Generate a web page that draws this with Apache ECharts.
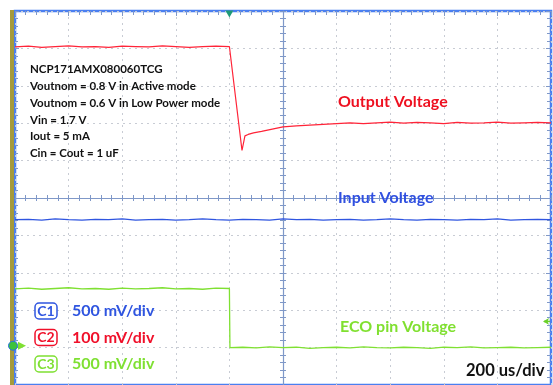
<!DOCTYPE html>
<html>
<head>
<meta charset="utf-8">
<script src="https://cdn.jsdelivr.net/npm/echarts@6/dist/echarts.min.js"></script>
<style>
html,body{margin:0;padding:0;background:#fff;}
#main{width:553px;height:385px;}
</style>
</head>
<body>
<div id="main"></div>
<script>
// time in us (screen centre = 0, 200 us/div), levels in divisions from centre
var redTime  = [-1000,-950,-900,-850,-800,-750,-700,-650,-600,-550,-500,-450,-400,-350,-300,-250,-200,
                -195,-153,-142,-130,-110,-80,-40,0,50,100,150,200,250,300,350,400,450,500,550,600,650,700,750,800,850,900,950,1000];
var redVal   = [4.04,4.06,4.03,4.05,4.07,4.04,4.05,4.03,4.06,4.05,4.04,4.07,4.05,4.03,4.05,4.06,4.05,
                4.00,1.27,1.66,1.70,1.74,1.78,1.84,1.90,1.93,1.95,1.97,1.99,2.01,1.99,2.01,2.03,2.00,2.02,2.01,1.99,2.02,2.00,2.01,2.03,2.00,2.01,2.02,2.01];

var blueTime = [-1000,-950,-900,-850,-800,-750,-700,-650,-600,-550,-500,-450,-400,-350,-300,-250,-200,-150,-100,-50,0,
                50,100,150,200,250,300,350,400,450,500,550,600,650,700,750,800,850,900,950,1000];
var blueVal  = [-0.58,-0.57,-0.59,-0.56,-0.58,-0.59,-0.57,-0.58,-0.56,-0.59,-0.58,-0.57,-0.59,-0.58,-0.56,-0.58,-0.59,-0.57,-0.58,-0.59,-0.56,
                -0.58,-0.57,-0.59,-0.58,-0.57,-0.59,-0.58,-0.56,-0.58,-0.59,-0.57,-0.58,-0.59,-0.57,-0.58,-0.56,-0.59,-0.58,-0.57,-0.58];

var greenTime = [-1000,-950,-900,-850,-800,-750,-700,-650,-600,-550,-500,-450,-400,-350,-300,-250,-200,-198,
                 -150,-100,-50,0,50,100,150,200,250,300,350,400,450,500,550,600,650,700,750,800,850,900,950,1000];
var greenVal  = [-2.43,-2.41,-2.44,-2.42,-2.40,-2.43,-2.42,-2.44,-2.41,-2.43,-2.42,-2.40,-2.43,-2.42,-2.44,-2.41,-2.42,-4.00,
                 -3.99,-4.01,-3.98,-4.00,-3.99,-4.02,-4.00,-3.99,-4.01,-3.98,-4.00,-4.01,-3.99,-4.00,-4.02,-3.99,-4.00,-3.98,-4.01,-4.00,-3.99,-4.01,-4.00,-3.99];

var infoLines = ['NCP171AMX080060TCG','Voutnom = 0.8 V in Active mode','Voutnom = 0.6 V in Low Power mode','Vin = 1.7 V','Iout = 5 mA','Cin = Cout = 1 uF'];
var chanNames = ['C1','C2','C3'];
var chanScales = ['500 mV/div','100 mV/div','500 mV/div'];
var chanColors = ['#2f55e0','#f0102a','#7fe032'];
var triggerTime = -200;
var triggerLevel = -3.3;
var groundLevel = -3.95;

function zip(t, v){
    var out = [];
    for(var i=0;i<t.length;i++){ out.push([t[i], v[i]]); }
    return out;
}

var fam = 'Lato, "Open Sans", sans-serif';
var tickCol = '#7f98c8';
var borderCol = '#4a7ff0';

var graphics = [];
// olive channel bar on the left edge
graphics.push({type:'rect', shape:{x:10,y:10,width:4,height:380}, style:{fill:'#a59a3c'}, z:1});
graphics.push({
    type:'text', left:30, top:61, z:20,
    style:{text:infoLines.join('\n'), fill:'#111', font:'bold 11.5px '+fam, lineHeight:16.8}
});
for(var i=0;i<3;i++){
    var cy = 311 + i*26.5;
    graphics.push({
        type:'rect', shape:{x:35,y:cy-8,width:22,height:16,r:4}, z:20,
        style:{fill:'#fff',stroke:chanColors[i],lineWidth:1.5}
    });
    graphics.push({
        type:'text', x:46, y:cy, z:21,
        style:{text:chanNames[i], fill:chanColors[i], font:'bold 14px '+fam, align:'center', verticalAlign:'middle'}
    });
    graphics.push({
        type:'text', x:72, y:cy, z:20,
        style:{text:chanScales[i], fill:chanColors[i], font:'bold 16px '+fam, verticalAlign:'middle'}
    });
}
graphics.push({type:'text', x:338, y:102, z:20, style:{text:'Output Voltage', fill:'#ee1020', font:'bold 16px '+fam, verticalAlign:'middle'}});
graphics.push({type:'text', x:338, y:198, z:20, style:{text:'Input Voltage', fill:'#3050e0', font:'bold 16px '+fam, verticalAlign:'middle'}});
graphics.push({type:'text', x:340, y:327, z:20, style:{text:'ECO pin Voltage', fill:'#80e030', font:'bold 16px '+fam, verticalAlign:'middle'}});
graphics.push({type:'text', x:466, y:371, z:20, style:{text:'200 us/div', fill:'#111', font:'bold 16.5px '+fam, verticalAlign:'middle'}});

var option = {
    animation:false,
    backgroundColor:'#fff',
    grid:{left:15, top:11, width:536, height:378, show:true, borderColor:borderCol, borderWidth:2.5, backgroundColor:'transparent'},
    xAxis:[
        {type:'value', min:-1000, max:1000, interval:200, position:'bottom',
         axisLine:{show:true, onZero:true, lineStyle:{color:tickCol, width:1.2}},
         axisTick:{show:true, inside:true, length:3, lineStyle:{color:tickCol}},
         minorTick:{show:true, splitNumber:5, length:3, lineStyle:{color:tickCol}},
         axisLabel:{show:false},
         splitLine:{show:true, lineStyle:{color:'#c8ccd4', type:[2,4], width:1}}},
        {type:'value', min:-1000, max:1000, interval:200, position:'bottom',
         axisLine:{show:false, onZero:true},
         axisTick:{show:true, inside:false, length:3, lineStyle:{color:tickCol}},
         minorTick:{show:true, splitNumber:5, length:3, lineStyle:{color:tickCol}},
         axisLabel:{show:false}, splitLine:{show:false}},
        {type:'value', min:-1000, max:1000, interval:200, position:'top',
         axisLine:{show:false, onZero:false},
         axisTick:{show:true, inside:true, length:5, lineStyle:{color:tickCol}},
         minorTick:{show:true, splitNumber:5, length:4, lineStyle:{color:tickCol}},
         axisLabel:{show:false}, splitLine:{show:false}}
    ],
    yAxis:[
        {type:'value', min:-5, max:5, interval:1, position:'left',
         axisLine:{show:true, onZero:true, lineStyle:{color:tickCol, width:1.2}},
         axisTick:{show:true, inside:true, length:3, lineStyle:{color:tickCol}},
         minorTick:{show:true, splitNumber:5, length:3, lineStyle:{color:tickCol}},
         axisLabel:{show:false},
         splitLine:{show:true, lineStyle:{color:'#c8ccd4', type:[2,4], width:1}}},
        {type:'value', min:-5, max:5, interval:1, position:'left',
         axisLine:{show:false, onZero:true},
         axisTick:{show:true, inside:false, length:3, lineStyle:{color:tickCol}},
         minorTick:{show:true, splitNumber:5, length:3, lineStyle:{color:tickCol}},
         axisLabel:{show:false}, splitLine:{show:false}},
        {type:'value', min:-5, max:5, interval:1, position:'right',
         axisLine:{show:false, onZero:false},
         axisTick:{show:true, inside:true, length:5, lineStyle:{color:tickCol}},
         minorTick:{show:true, splitNumber:5, length:4, lineStyle:{color:tickCol}},
         axisLabel:{show:false}, splitLine:{show:false}},
        {type:'value', min:-5, max:5, interval:1, position:'left',
         axisLine:{show:false, onZero:false},
         axisTick:{show:true, inside:true, length:4, lineStyle:{color:tickCol}},
         minorTick:{show:true, splitNumber:5, length:3, lineStyle:{color:tickCol}},
         axisLabel:{show:false}, splitLine:{show:false}}
    ],
    series:[
        {name:'Input Voltage', type:'line', data:zip(blueTime, blueVal), showSymbol:false,
         lineStyle:{color:'#2f55e0', width:1.2}, z:3},
        {name:'ECO pin Voltage', type:'line', data:zip(greenTime, greenVal), showSymbol:false,
         lineStyle:{color:'#7fe032', width:1.3}, z:3,
         markPoint:{silent:true, animation:false, data:[
            {coord:[-1000, groundLevel], symbol:'circle', symbolSize:9, symbolOffset:[-2,0],
             itemStyle:{color:'#3cc23c', borderColor:'#2a70e0', borderWidth:1}, label:{show:false}},
            {coord:[-1000, groundLevel], symbol:'triangle', symbolSize:[8,8], symbolRotate:-90, symbolOffset:[7,0],
             itemStyle:{color:'#7fe032'}, label:{show:false}},
            {coord:[1000, triggerLevel], symbol:'arrow', symbolSize:[5,6], symbolRotate:90, symbolOffset:[-8,0],
             itemStyle:{color:'#6ad02a'}, label:{show:false}},
            {coord:[1000, triggerLevel], symbol:'rect', symbolSize:[6,1.5], symbolOffset:[-4,0],
             itemStyle:{color:'#6ad02a'}, label:{show:false}}
         ]}},
        {name:'Output Voltage', type:'line', data:zip(redTime, redVal), showSymbol:false,
         lineStyle:{color:'#ff2438', width:1.2}, z:3,
         markPoint:{silent:true, animation:false, data:[
            {coord:[triggerTime, 5], symbol:'triangle', symbolSize:[8,7], symbolRotate:180, symbolOffset:[0,3],
             itemStyle:{color:'#1f9a78'}, label:{show:false}}
         ]}}
    ],
    graphic:graphics
};

var myChart = echarts.init(document.getElementById('main'));
myChart.setOption(option);
</script>
</body>
</html>
